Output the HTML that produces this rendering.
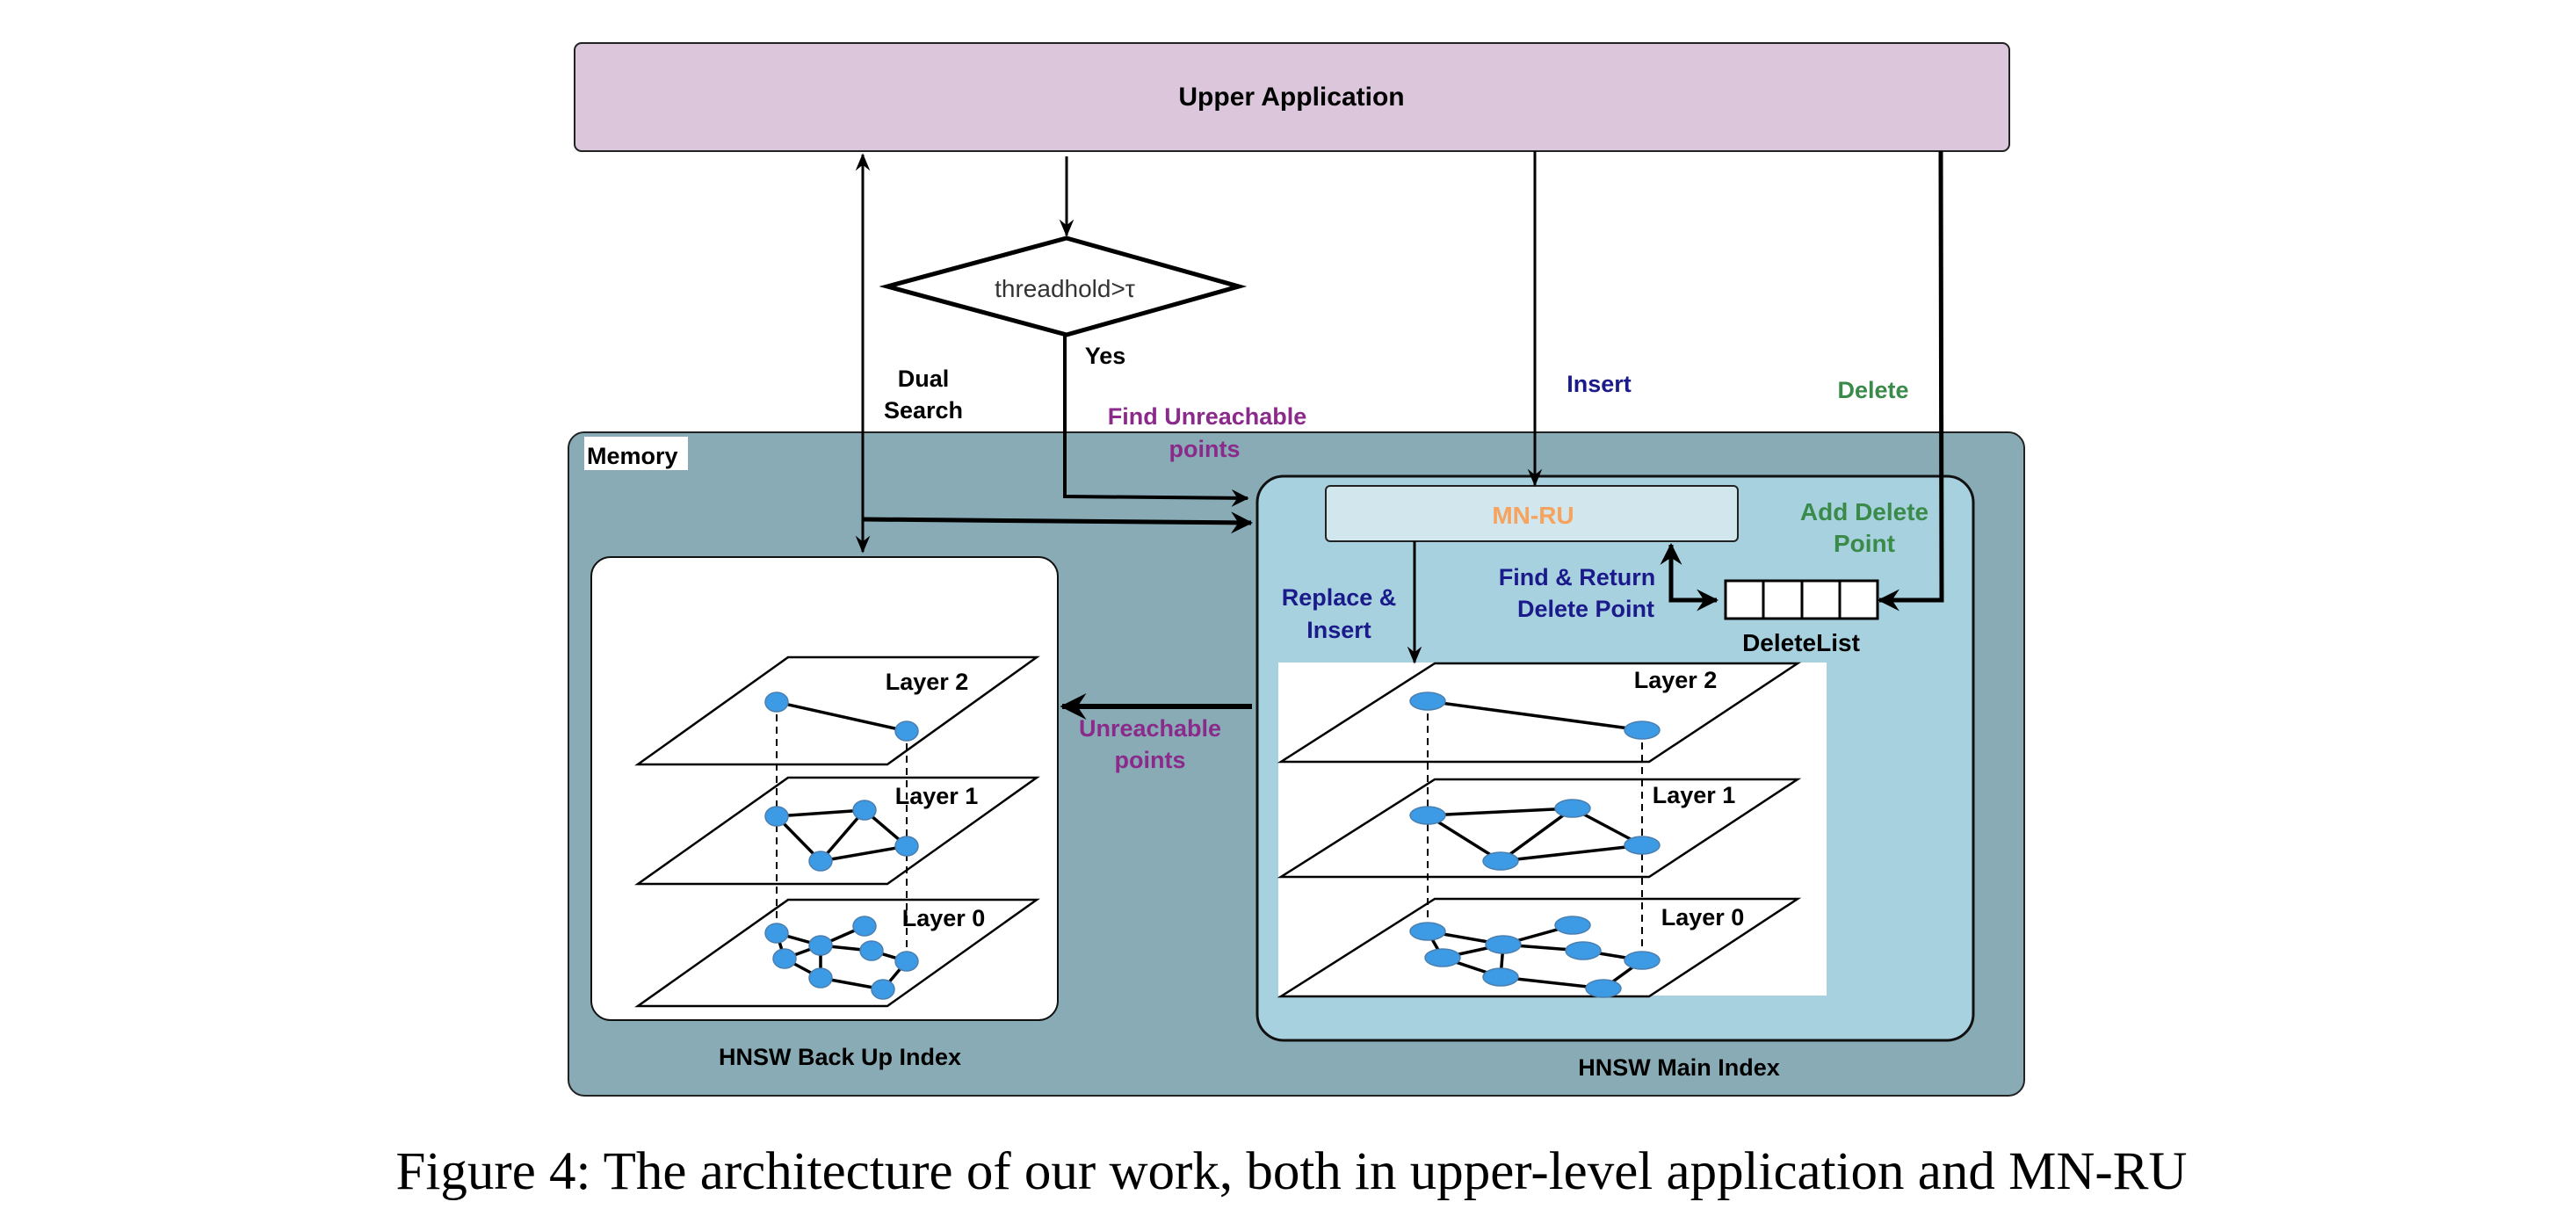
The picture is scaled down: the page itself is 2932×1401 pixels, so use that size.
<!DOCTYPE html>
<html><head><meta charset="utf-8"><style>
html,body{margin:0;padding:0;background:#fff;}
svg text{font-family:"Liberation Sans",Arial,sans-serif;font-weight:bold;}
</style></head><body>
<svg width="2932" height="1396" viewBox="0 0 2932 1396" xmlns="http://www.w3.org/2000/svg">
<defs>
<marker id="ah" viewBox="0 0 12 12" refX="11" refY="6" markerWidth="20" markerHeight="20" markerUnits="userSpaceOnUse" orient="auto-start-reverse"><path d="M0,1 L12,6 L0,11 L4,6 z" fill="#000"/></marker>
<marker id="ahb" viewBox="0 0 12 12" refX="11" refY="6" markerWidth="5" markerHeight="5" orient="auto-start-reverse"><path d="M0,0 L12,6 L0,12 L4,6 z" fill="#000"/></marker>
</defs>
<rect x="654" y="49" width="1633" height="123" rx="8" fill="#dbc6dc" stroke="#222" stroke-width="2"/>
<text x="1470" y="120" font-size="30" text-anchor="middle">Upper Application</text>
<rect x="647" y="492" width="1657" height="755" rx="18" fill="#88abb6" stroke="#222" stroke-width="2"/>
<rect x="665" y="497" width="118" height="38" fill="#fff"/>
<text x="668" y="528" font-size="27">Memory</text>
<rect x="1431" y="542" width="815" height="642" rx="30" fill="#a8d1df" stroke="#111" stroke-width="3"/>
<rect x="1509" y="553" width="469" height="63" rx="5" fill="#d2e6ed" stroke="#222" stroke-width="2"/>
<text x="1745" y="596" font-size="28" fill="#f5a35e" text-anchor="middle">MN-RU</text>
<text x="2122" y="592" font-size="28" fill="#3a8a4a" text-anchor="middle">Add Delete</text>
<text x="2122" y="628" font-size="28" fill="#3a8a4a" text-anchor="middle">Point</text>
<rect x="1964" y="661" width="173" height="43" fill="#fff" stroke="#000" stroke-width="3"/>
<line x1="2007" y1="661" x2="2007" y2="704" stroke="#000" stroke-width="3"/>
<line x1="2051" y1="661" x2="2051" y2="704" stroke="#000" stroke-width="3"/>
<line x1="2094" y1="661" x2="2094" y2="704" stroke="#000" stroke-width="3"/>
<text x="2050" y="741" font-size="28" text-anchor="middle">DeleteList</text>
<rect x="673" y="634" width="531" height="527" rx="22" fill="#fff" stroke="#111" stroke-width="2"/>
<rect x="1455" y="754" width="624" height="379" fill="#fff"/>
<polygon points="1214,271 1410,326 1214,381 1010,326" fill="#fff" stroke="#000" stroke-width="5"/>
<text x="1212" y="338" font-size="28" fill="#333" text-anchor="middle" style="font-weight:normal">threadhold&gt;τ</text>
<line x1="1214" y1="178" x2="1214" y2="268" stroke="#000" stroke-width="3" marker-end="url(#ah)"/>
<polyline points="1212,381 1212,565 1420,567" fill="none" stroke="#000" stroke-width="4" marker-end="url(#ahb)"/>
<line x1="982" y1="176" x2="982" y2="628" stroke="#000" stroke-width="3" marker-start="url(#ah)" marker-end="url(#ah)"/>
<line x1="982" y1="591" x2="1424" y2="595" stroke="#000" stroke-width="5" marker-end="url(#ahb)"/>
<line x1="1747" y1="172" x2="1747" y2="552" stroke="#000" stroke-width="3" marker-end="url(#ah)"/>
<polyline points="2209,172 2210,683 2139,683" fill="none" stroke="#000" stroke-width="5" marker-end="url(#ahb)"/>
<line x1="1610" y1="616" x2="1610" y2="754" stroke="#000" stroke-width="3" marker-end="url(#ah)"/>
<polyline points="1902,620 1902,683 1954,683" fill="none" stroke="#000" stroke-width="5" marker-start="url(#ahb)" marker-end="url(#ahb)"/>
<line x1="1425" y1="804" x2="1209" y2="804" stroke="#000" stroke-width="6" marker-end="url(#ahb)"/>
<text x="1258" y="414" font-size="27" text-anchor="middle">Yes</text>
<text x="1051" y="440" font-size="27" text-anchor="middle">Dual</text>
<text x="1051" y="476" font-size="27" text-anchor="middle">Search</text>
<text x="1374" y="483" font-size="27" fill="#8a2a8a" text-anchor="middle">Find Unreachable</text>
<text x="1371" y="520" font-size="27" fill="#8a2a8a" text-anchor="middle">points</text>
<text x="1820" y="446" font-size="27" fill="#1a1a8a" text-anchor="middle">Insert</text>
<text x="2132" y="453" font-size="27" fill="#3a8a4a" text-anchor="middle">Delete</text>
<text x="1524" y="689" font-size="27" fill="#1a1a8a" text-anchor="middle">Replace &amp;</text>
<text x="1524" y="726" font-size="27" fill="#1a1a8a" text-anchor="middle">Insert</text>
<text x="1795" y="666" font-size="27" fill="#1a1a8a" text-anchor="middle">Find &amp; Return</text>
<text x="1805" y="702" font-size="27" fill="#1a1a8a" text-anchor="middle">Delete Point</text>
<text x="1309" y="838" font-size="27" fill="#8a2a8a" text-anchor="middle">Unreachable</text>
<text x="1309" y="874" font-size="27" fill="#8a2a8a" text-anchor="middle">points</text>
<text x="956" y="1212" font-size="27" text-anchor="middle">HNSW Back Up Index</text>
<text x="1911" y="1224" font-size="27" text-anchor="middle">HNSW Main Index</text>
<g stroke="#000" stroke-width="2.5" fill="#fff">
<polygon points="897,748 1180,748 1010,870 726,870"/>
<polygon points="897,885 1180,885 1010,1006 726,1006"/>
<polygon points="897,1024 1180,1024 1010,1145 726,1145"/>
</g>
<g stroke="#000" stroke-width="2" stroke-dasharray="8,6">
<line x1="884" y1="799" x2="884" y2="1062"/><line x1="1032" y1="832" x2="1032" y2="1094"/>
</g>
<g stroke="#000" stroke-width="3.5">
<line x1="884" y1="799" x2="1032" y2="832"/>
<line x1="884" y1="929" x2="984" y2="922"/><line x1="884" y1="929" x2="934" y2="980"/><line x1="984" y1="922" x2="934" y2="980"/><line x1="984" y1="922" x2="1032" y2="963"/><line x1="934" y1="980" x2="1032" y2="963"/>
<line x1="884" y1="1062" x2="934" y2="1076"/><line x1="884" y1="1062" x2="893" y2="1091"/><line x1="934" y1="1076" x2="984" y2="1054"/><line x1="934" y1="1076" x2="992" y2="1082"/><line x1="934" y1="1076" x2="893" y2="1091"/><line x1="934" y1="1076" x2="934" y2="1113"/><line x1="992" y1="1082" x2="1032" y2="1094"/><line x1="1032" y1="1094" x2="1005" y2="1126"/><line x1="934" y1="1113" x2="1005" y2="1126"/><line x1="893" y1="1091" x2="934" y2="1113"/>
</g>
<g fill="#3d9be6" stroke="#4a7fb0" stroke-width="1.5">
<ellipse cx="884" cy="799" rx="13" ry="11"/><ellipse cx="1032" cy="832" rx="13" ry="11"/>
<ellipse cx="884" cy="929" rx="13" ry="11"/><ellipse cx="984" cy="922" rx="13" ry="11"/><ellipse cx="1032" cy="963" rx="13" ry="11"/><ellipse cx="934" cy="980" rx="13" ry="11"/>
<ellipse cx="884" cy="1062" rx="13" ry="11"/><ellipse cx="984" cy="1054" rx="13" ry="11"/><ellipse cx="934" cy="1076" rx="13" ry="11"/><ellipse cx="992" cy="1082" rx="13" ry="11"/><ellipse cx="893" cy="1091" rx="13" ry="11"/><ellipse cx="1032" cy="1094" rx="13" ry="11"/><ellipse cx="934" cy="1113" rx="13" ry="11"/><ellipse cx="1005" cy="1126" rx="13" ry="11"/>
</g>
<text x="1055" y="785" font-size="27" text-anchor="middle">Layer 2</text>
<text x="1066" y="915" font-size="27" text-anchor="middle">Layer 1</text>
<text x="1074" y="1054" font-size="27" text-anchor="middle">Layer 0</text>
<g stroke="#000" stroke-width="2.5" fill="#fff">
<polygon points="1633,755 2046,755 1877,867 1458,867"/>
<polygon points="1633,887 2046,887 1877,998 1458,998"/>
<polygon points="1633,1023 2046,1023 1877,1134 1458,1134"/>
</g>
<g stroke="#000" stroke-width="2" stroke-dasharray="8,6">
<line x1="1625" y1="798" x2="1625" y2="1060"/><line x1="1869" y1="831" x2="1869" y2="1093"/>
</g>
<g stroke="#000" stroke-width="3.5">
<line x1="1625" y1="798" x2="1869" y2="831"/>
<line x1="1625" y1="928" x2="1790" y2="920"/><line x1="1625" y1="928" x2="1708" y2="980"/><line x1="1790" y1="920" x2="1708" y2="980"/><line x1="1790" y1="920" x2="1869" y2="962"/><line x1="1708" y1="980" x2="1869" y2="962"/>
<line x1="1625" y1="1060" x2="1711" y2="1075"/><line x1="1625" y1="1060" x2="1642" y2="1090"/><line x1="1711" y1="1075" x2="1790" y2="1053"/><line x1="1711" y1="1075" x2="1802" y2="1082"/><line x1="1711" y1="1075" x2="1642" y2="1090"/><line x1="1711" y1="1075" x2="1708" y2="1112"/><line x1="1802" y1="1082" x2="1869" y2="1093"/><line x1="1869" y1="1093" x2="1825" y2="1125"/><line x1="1708" y1="1112" x2="1825" y2="1125"/><line x1="1642" y1="1090" x2="1708" y2="1112"/>
</g>
<g fill="#3d9be6" stroke="#4a7fb0" stroke-width="1.5">
<ellipse cx="1625" cy="798" rx="20" ry="10"/><ellipse cx="1869" cy="831" rx="20" ry="10"/>
<ellipse cx="1625" cy="928" rx="20" ry="10"/><ellipse cx="1790" cy="920" rx="20" ry="10"/><ellipse cx="1869" cy="962" rx="20" ry="10"/><ellipse cx="1708" cy="980" rx="20" ry="10"/>
<ellipse cx="1625" cy="1060" rx="20" ry="10"/><ellipse cx="1790" cy="1053" rx="20" ry="10"/><ellipse cx="1711" cy="1075" rx="20" ry="10"/><ellipse cx="1802" cy="1082" rx="20" ry="10"/><ellipse cx="1642" cy="1090" rx="20" ry="10"/><ellipse cx="1869" cy="1093" rx="20" ry="10"/><ellipse cx="1708" cy="1112" rx="20" ry="10"/><ellipse cx="1825" cy="1125" rx="20" ry="10"/>
</g>
<text x="1907" y="783" font-size="27" text-anchor="middle">Layer 2</text>
<text x="1928" y="914" font-size="27" text-anchor="middle">Layer 1</text>
<text x="1938" y="1053" font-size="27" text-anchor="middle">Layer 0</text>
<text x="1470" y="1353" font-size="61" text-anchor="middle" style="font-family:'Liberation Serif',serif;font-weight:normal">Figure 4: The architecture of our work, both in upper-level application and MN-RU</text>
</svg>
</body></html>
